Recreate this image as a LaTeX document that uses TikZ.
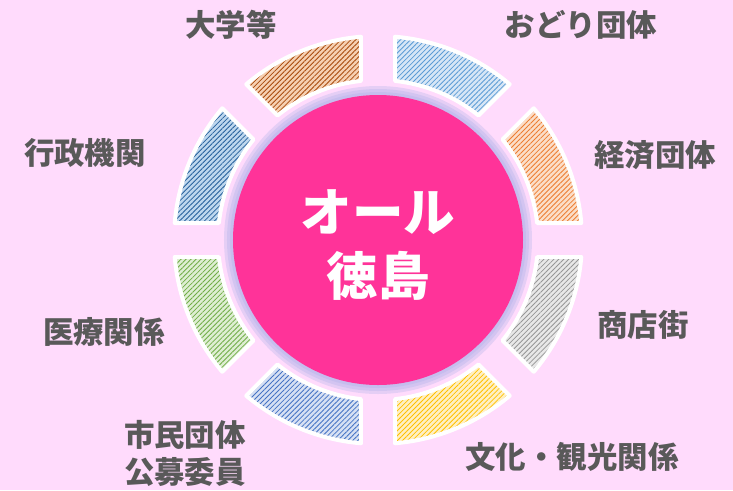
\documentclass[tikz,border=0pt]{standalone}
\usepackage{fontspec}
\newfontfamily\jpfont{Noto Sans CJK JP}
\usepackage{xcolor}
\usepackage{tikz}
\usetikzlibrary{
    patterns.meta
}
\definecolor{bgpink}{RGB}{255,219,252}
\definecolor{hubpink}{RGB}{255,51,153}
\definecolor{halo}{RGB}{170,176,232}
\definecolor{labelgray}{RGB}{89,89,89}
\definecolor{odoriline}{RGB}{91,155,213}
\definecolor{odoribase}{RGB}{214,230,246}
\definecolor{keizailine}{RGB}{237,125,49}
\definecolor{keizaibase}{RGB}{251,222,200}
\definecolor{shotenline}{RGB}{150,150,150}
\definecolor{shotenbase}{RGB}{232,232,232}
\definecolor{bunkaline}{RGB}{255,192,0}
\definecolor{bunkabase}{RGB}{255,240,196}
\definecolor{shiminline}{RGB}{68,114,196}
\definecolor{shiminbase}{RGB}{214,224,243}
\definecolor{iryoline}{RGB}{112,173,71}
\definecolor{iryobase}{RGB}{222,238,210}
\definecolor{gyoseiline}{RGB}{38,96,156}
\definecolor{gyoseibase}{RGB}{190,215,238}
\definecolor{daigakuline}{RGB}{168,74,12}
\definecolor{daigakubase}{RGB}{246,208,178}
\newcommand{\ringin}{160}
\newcommand{\ringout}{204}
\newcommand{\ringgap}{17}
\newcommand{\ringpart}[3]{%
    \path[part, pattern color=#2, preaction={fill=#3}]
        ({#1-22.5+asin(\ringgap/\ringout)}:\ringout)
        arc[start angle={#1-22.5+asin(\ringgap/\ringout)}, end angle={#1+22.5-asin(\ringgap/\ringout)}, radius=\ringout]
        -- ({#1+22.5-asin(\ringgap/\ringin)}:\ringin)
        arc[start angle={#1+22.5-asin(\ringgap/\ringin)}, end angle={#1-22.5+asin(\ringgap/\ringin)}, radius=\ringin]
        -- cycle;
}

\begin{document}
\begin{tikzpicture}[
    x=0.03cm, y=0.03cm,
    label/.style={
        font=\jpfont\bfseries\fontsize{26}{31.5}\selectfont,
        text=labelgray,
        align=center,
        inner sep=0pt
    },
    hubtext/.style={
        font=\jpfont\bfseries\fontsize{44}{54}\selectfont,
        text=white,
        align=center,
        inner sep=0pt
    },
    part/.style={
        draw=white,
        line width=3.4pt,
        line join=round,
        pattern={Lines[angle=45, distance=3pt, line width=0.7pt]}
    },
    glow/.style={
        fill=halo,
        opacity=0.3
    }
]

% Background
\useasboundingbox (-378,-250) rectangle (355,240);
\fill[bgpink] (-378,-250) rectangle (355,240);

% Ring of groups
\ringpart{67.5}{odoriline}{odoribase}
\ringpart{22.5}{keizailine}{keizaibase}
\ringpart{-22.5}{shotenline}{shotenbase}
\ringpart{-67.5}{bunkaline}{bunkabase}
\ringpart{-112.5}{shiminline}{shiminbase}
\ringpart{-157.5}{iryoline}{iryobase}
\ringpart{157.5}{gyoseiline}{gyoseibase}
\ringpart{112.5}{daigakuline}{daigakubase}

% Hub with glow
\fill[glow] (0,0) circle[radius=154];
\fill[glow] (0,0) circle[radius=151];
\fill[glow] (0,0) circle[radius=148];
\fill[hubpink] (0,0) circle[radius=145];

% Hub text
\node[hubtext] (hub) at (0,-5) {オール\\徳島};

% Labels
\node[label] (daigaku) at (-147,215) {大学等};
\node[label] (odori) at (203,215) {おどり団体};
\node[label] (gyosei) at (-293,87) {行政機関};
\node[label] (keizai) at (277,85) {経済団体};
\node[label] (iryo) at (-274,-92) {医療関係};
\node[label] (shoten) at (265,-85) {商店街};
\node[label] (bunka) at (194,-217) {文化・観光関係};
\node[label] (shimin) at (-193,-213) {市民団体\\公募委員};

\end{tikzpicture}
\end{document}
